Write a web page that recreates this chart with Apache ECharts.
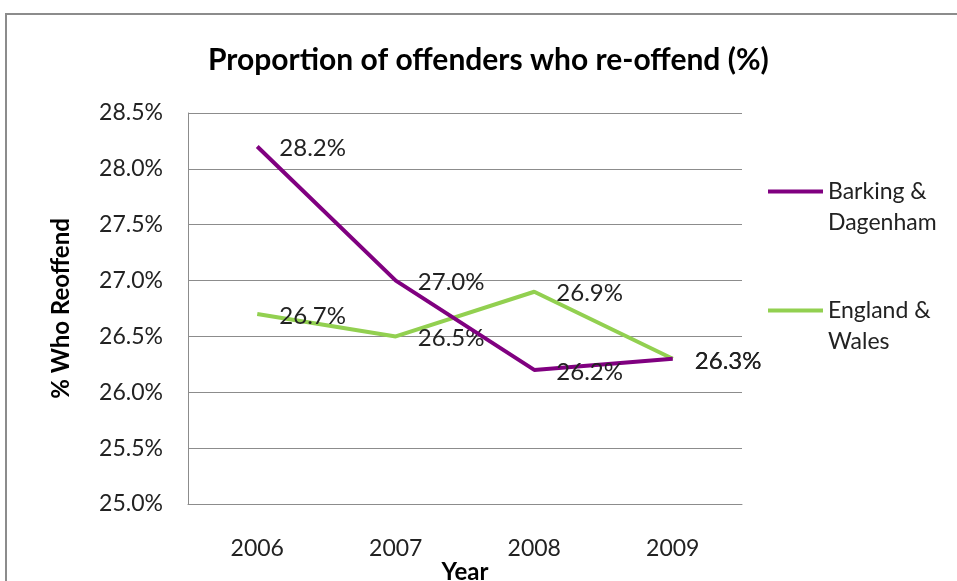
<!DOCTYPE html>
<html lang="en">
<head>
    <meta charset="UTF-8">
    <title>Proportion of offenders who re-offend</title>
    <script src="https://cdn.jsdelivr.net/npm/echarts@6/dist/echarts.min.js"></script>
    <style>
        html, body { margin: 0; padding: 0; background: #fff; }
        #main { width: 957px; height: 581px; }
    </style>
</head>
<body>
    <div id="main"></div>
    <script>
        var years = ['2006', '2007', '2008', '2009'];
        var barking = [28.2, 27.0, 26.2, 26.3];
        var england = [26.7, 26.5, 26.9, 26.3];
        var seriesNames = ['Barking & Dagenham', 'England & Wales'];
        var seriesColors = ['#800080', '#92D050'];
        // leading blank line keeps the icon level with the first text line
        var legendLines = {
            'Barking & Dagenham': '\nBarking &\nDagenham',
            'England & Wales': '\nEngland &\nWales'
        };

        var font = 'Lato';
        var myChart = echarts.init(document.getElementById('main'));

        function legendFor(name, top) {
            return {
                data: [name],
                left: 768,
                top: top,
                padding: 0,
                orient: 'vertical',
                icon: 'rect',
                itemWidth: 55,
                itemHeight: 4,
                itemGap: 0,
                selectedMode: false,
                formatter: function (n) { return legendLines[n]; },
                textStyle: {
                    fontFamily: font,
                    fontSize: 23,
                    color: '#222',
                    lineHeight: 31
                }
            };
        }

        var labelStyle = {
            show: true,
            position: 'right',
            distance: 22,
            offset: [0, 2],
            fontFamily: font,
            fontSize: 24,
            color: '#222',
            formatter: function (p) { return p.value.toFixed(1) + '%'; }
        };

        function lineSeries(i, values, z) {
            return {
                name: seriesNames[i],
                type: 'line',
                data: values,
                showSymbol: true,
                symbol: 'circle',
                symbolSize: 0.1,
                color: seriesColors[i],
                itemStyle: { color: seriesColors[i] },
                lineStyle: { color: seriesColors[i], width: 4 },
                label: labelStyle,
                z: z
            };
        }

        var option = {
            animation: false,
            backgroundColor: '#fff',
            graphic: [{
                type: 'rect',
                shape: { x: 6, y: 14, width: 980, height: 600 },
                style: { fill: 'none', stroke: '#8c8c8c', lineWidth: 2 },
                silent: true
            }],
            title: {
                text: 'Proportion of offenders who re-offend (%)',
                left: 203,
                top: 40,
                textStyle: {
                    fontFamily: font,
                    fontSize: 30,
                    fontWeight: 'bold',
                    color: '#000'
                }
            },
            legend: [
                legendFor(seriesNames[0], 145),
                legendFor(seriesNames[1], 264)
            ],
            grid: { left: 188, right: 215, top: 113, bottom: 77, outerBoundsMode: 'none' },
            xAxis: {
                type: 'category',
                data: years,
                boundaryGap: true,
                name: 'Year',
                nameLocation: 'middle',
                nameGap: 56,
                nameMoveOverlap: false,
                nameTextStyle: { fontFamily: font, fontSize: 24, fontWeight: 'bold', color: '#000' },
                axisLine: { lineStyle: { color: '#8c8c8c', width: 1 } },
                axisTick: { show: false },
                axisLabel: { fontFamily: font, fontSize: 23, color: '#222', margin: 33 }
            },
            yAxis: {
                type: 'value',
                min: 25,
                max: 28.5,
                interval: 0.5,
                name: '% Who Reoffend',
                nameLocation: 'middle',
                nameGap: 115,
                nameMoveOverlap: false,
                nameRotate: 90,
                nameTextStyle: { fontFamily: font, fontSize: 24, fontWeight: 'bold', color: '#000' },
                axisLine: { show: true, lineStyle: { color: '#8c8c8c', width: 1 } },
                axisTick: { show: false },
                splitLine: { lineStyle: { color: '#8c8c8c', width: 1 } },
                axisLabel: {
                    fontFamily: font,
                    fontSize: 23,
                    color: '#222',
                    margin: 25,
                    formatter: function (v) { return v.toFixed(1) + '%'; }
                }
            },
            series: [
                lineSeries(0, barking, 3),
                lineSeries(1, england, 2)
            ]
        };

        myChart.setOption(option);
    </script>
</body>
</html>
